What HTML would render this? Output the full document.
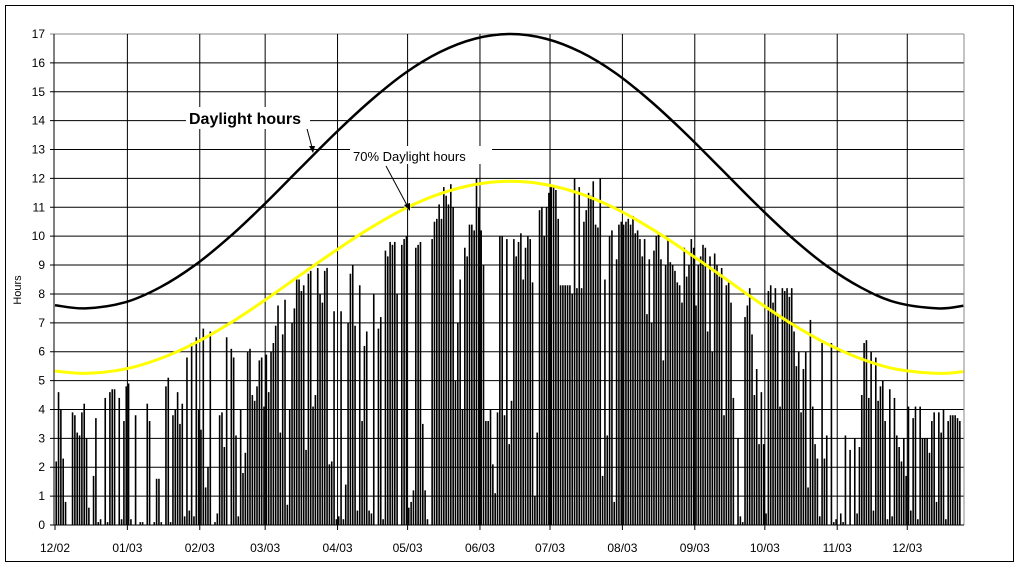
<!DOCTYPE html>
<html><head><meta charset="utf-8"><style>
body{margin:0;background:#fff;}
svg text{font-family:"Liberation Sans",Arial,sans-serif;}
</style></head><body>
<svg id="chart" width="1020" height="566" viewBox="0 0 1020 566" xmlns="http://www.w3.org/2000/svg">
<rect x="5.5" y="5.5" width="1008" height="556" fill="#fff" stroke="#000" stroke-width="1"/>
<g id="grid"></g><g id="bars"></g><g id="lines"></g><g id="axes"></g>
<g>
<line x1="306" y1="125" x2="313" y2="151" stroke="#000" stroke-width="1"/>
<polygon points="313,153 309,146 315,146" fill="#000"/>
<rect x="186" y="107" width="124" height="22" fill="#fff"/>
<text x="189" y="124" font-size="16" font-weight="bold">Daylight hours</text>
</g>
<g>
<line x1="386" y1="166" x2="409" y2="209" stroke="#000" stroke-width="1"/>
<polygon points="410,211 404,205 410,203" fill="#000"/>
<rect x="350" y="146" width="142" height="18" fill="#fff"/>
<text x="353" y="161" font-size="13">70% Daylight hours</text>
</g>
<text transform="translate(21,290) rotate(-90)" font-size="11" text-anchor="middle">Hours</text>
</svg>
<script>
const months=["12/02","01/03","02/03","03/03","04/03","05/03","06/03","07/03","08/03","09/03","10/03","11/03","12/03"];
const monthStartDays=[0,31,62,90,121,151,182,212,243,274,304,335,365];
const yTicks=[0,1,2,3,4,5,6,7,8,9,10,11,12,13,14,15,16,17];
const sunDec02=[2.2,4.6,4.0,2.3,0.8,0,0,3.9,3.8,3.2,3.1,3.9,4.2,3.0,0.6,0,1.7,3.7,0.1,0.2,0,4.4,0.1,4.6,4.7,4.7,0,4.4,0.2,3.6,4.8];
const sunJan03=[4.9,0.2,0,3.8,0,0.1,0.1,0,4.2,3.6,0,0.1,1.6,1.6,0.1,0,4.8,5.1,0.1,3.8,4.0,4.6,3.5,4.2,0.3,5.8,0.5,6.3,0.3,6.5,4.0];
const sunFeb03=[3.3,6.8,1.3,2.0,6.7,0,0.1,0.4,3.8,3.9,2.7,6.5,0,6.1,5.8,3.1,0.3,4.0,1.8,2.5,6.0,6.1,4.5,4.3,4.8,5.7,5.8,4.1];
const sunMar03=[5.9,4.6,6.0,6.3,6.9,7.6,3.2,6.6,7.8,0.7,4.0,7.0,7.5,8.5,8.5,8.1,8.3,2.6,8.7,8.8,4.1,4.5,8.9,8.0,7.7,8.8,8.9,2.1,2.2,7.4,0.2];
const sunApr03=[0.3,7.4,0.2,1.4,7.0,8.7,9.0,6.9,0.5,8.3,3.6,6.2,6.7,0.5,0.4,8.0,0,6.8,7.2,0.2,9.5,9.3,9.8,9.7,9.8,8.0,0,9.7,9.9,10.0];
const sunMay03=[0.6,0.8,1.2,9.6,9.7,9.8,3.5,1.2,0.2,0,9.9,10.5,10.6,11.1,10.6,11.7,11.4,11.1,11.8,11.0,5.0,7.0,8.5,4.0,9.6,9.3,10.4,10.4,10.2,12.0,11.0];
const sunJun03=[10.2,9.0,3.6,3.6,4.0,2.1,1.1,3.9,10.0,10.0,3.8,9.9,2.8,4.3,9.9,9.3,9.8,10.1,8.5,9.6,10.0,9.9,8.4,1.0,3.2,10.9,11.0,10.0,11.0,11.5];
const sunJul03=[11.7,11.7,11.6,10.6,8.3,8.3,8.3,8.3,8.3,8.0,12.0,8.2,11.7,8.2,10.5,10.9,11.5,11.4,11.9,10.4,10.3,12.0,1.7,8.5,3.1,10.0,10.2,0.8,9.2,10.4,10.5];
const sunAug03=[10.4,10.5,10.6,10.4,10.7,10.1,10.2,9.9,9.3,9.9,7.3,9.2,7.0,9.5,10.0,10.1,9.2,5.7,9.0,9.9,9.1,9.0,8.8,8.4,8.3,7.7,9.6,8.6,9.0,9.9,9.6];
const sunSep03=[7.6,9.0,9.3,9.7,9.6,6.7,9.3,6.0,9.4,9.0,8.6,8.9,3.8,8.3,8.4,7.7,4.4,0,3.0,0.3,0.1,7.2,7.6,8.2,6.6,4.5,5.4,2.8,4.6,2.8];
const sunOct03=[0.4,8.1,8.3,7.7,8.2,7.3,4.1,8.2,8.1,8.2,7.9,8.2,6.7,5.5,6.0,3.9,5.4,6.0,1.3,7.1,4.1,2.8,2.3,0.3,6.3,2.3,3.1,0,6.3,0.1,0.2];
const sunNov03=[0,0.4,0.1,3.1,0,2.6,0,3.0,0.4,2.7,4.5,6.3,6.4,4.4,6.0,0.5,5.8,4.3,4.8,5.0,3.6,0.2,4.7,0.3,4.4,3.1,2.7,2.2,3.0,1.7];
const sunDec03=[4.1,0.5,3.7,4.1,0.2,4.1,3.0,3.0,3.0,2.5,3.6,3.9,0.8,3.9,3.2,4.0,0.2,3.6,3.8,3.8,3.8,3.7,3.6];
const curveDays=[0,13,30,45,60,75,90,105,120,135,150,165,180,195,210,225,240,255,270,285,300,315,330,345,360,378,389];
const daylight=[7.61,7.5,7.71,8.23,9.0,9.99,11.13,12.35,13.56,14.68,15.65,16.38,16.84,17.0,16.84,16.38,15.65,14.68,13.56,12.35,11.13,9.99,9.0,8.23,7.71,7.5,7.59];
const daylight70=[5.33,5.25,5.4,5.76,6.3,6.99,7.79,8.65,9.49,10.28,10.96,11.47,11.79,11.9,11.79,11.47,10.96,10.28,9.49,8.65,7.79,6.99,6.3,5.76,5.4,5.25,5.31];

const NS="http://www.w3.org/2000/svg";
const L=54,R=964,T=34,B=525,D0=55,PXD=2.335;
const xs=d=>D0+d*PXD;
const ys=v=>B-(v/17)*(B-T);
function mk(tag,attrs,parent){const e=document.createElementNS(NS,tag);for(const k in attrs)e.setAttribute(k,attrs[k]);parent.appendChild(e);return e;}
const grid=document.getElementById('grid'),bars=document.getElementById('bars'),lines=document.getElementById('lines'),axes=document.getElementById('axes');
yTicks.forEach(v=>{
 const g=mk('line',{x1:50,x2:R,y1:ys(v),y2:ys(v),stroke:v==17?'#888':'#000','stroke-width':1},grid);
 
 
 const t=mk('text',{x:45,y:ys(v)+4,'font-size':12,'text-anchor':'end'},axes);
 t.textContent=v;
 
 
});
monthStartDays.forEach((d,i)=>{
 const x=xs(d);
 if(i>0){const g=mk('line',{x1:x,x2:x,y1:T,y2:B,stroke:'#000','stroke-width':1},grid);
 
 }
 mk('line',{x1:x,x2:x,y1:B,y2:B+5,stroke:'#000'},axes);
 const t=mk('text',{x:x,y:552,'font-size':12,'text-anchor':'middle'},axes);
 t.textContent=months[i];
 
 
});
const rb=mk('line',{x1:R,x2:R,y1:T,y2:B,stroke:'#888'},grid);


const sun=[].concat(sunDec02,sunJan03,sunFeb03,sunMar03,sunApr03,sunMay03,sunJun03,sunJul03,sunAug03,sunSep03,sunOct03,sunNov03,sunDec03);
sun.forEach((v,d)=>{
 if(v<=0)return;
 const r=mk('rect',{x:xs(d)+0.4,y:ys(v),width:1.6,height:B-ys(v),fill:'#000'},bars);
 
 
});
function smooth(vals){
 const p=curveDays.map((d,i)=>[xs(d),ys(vals[i])]);
 let s='M'+p[0][0]+','+p[0][1];
 for(let i=0;i<p.length-1;i++){
  const p0=p[i-1]||p[i],p1=p[i],p2=p[i+1],p3=p[i+2]||p2;
  const c1=[p1[0]+(p2[0]-p0[0])/6,p1[1]+(p2[1]-p0[1])/6],c2=[p2[0]-(p3[0]-p1[0])/6,p2[1]-(p3[1]-p1[1])/6];
  s+=` C${c1[0]},${c1[1]} ${c2[0]},${c2[1]} ${p2[0]},${p2[1]}`;
 }
 return s;
}
const l70=mk('path',{d:smooth(daylight70),fill:'none',stroke:'#ffff00','stroke-width':3},lines);


const ld=mk('path',{d:smooth(daylight),fill:'none',stroke:'#000','stroke-width':2.5},lines);


const ya=mk('line',{x1:L,x2:L,y1:T,y2:B,stroke:'#000'},axes);


const xa=mk('line',{x1:L,x2:R,y1:B,y2:B,stroke:'#000'},axes);


</script>
</body></html>
